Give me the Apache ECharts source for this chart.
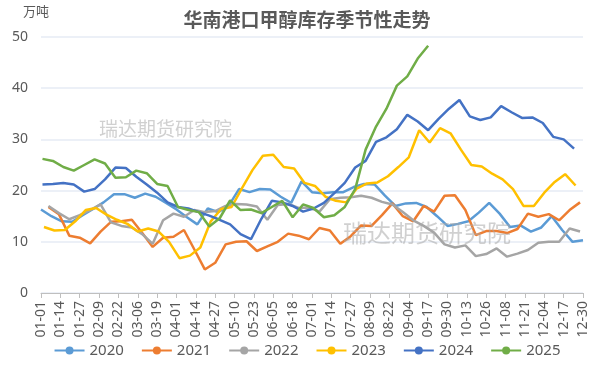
<!DOCTYPE html>
<html><head><meta charset="utf-8">
<script src="https://cdn.jsdelivr.net/npm/echarts@6/dist/echarts.min.js"></script>
<style>html,body{margin:0;padding:0;background:#fff}#c{width:614px;height:369px}</style>
</head><body><div id="c"></div>
<script>
const tickLabels = ['01-01','01-14','01-27','02-09','02-22','03-06','03-19','04-01','04-14','04-27','05-10','05-23','06-05','06-18','07-01','07-14','07-27','08-09','08-22','09-04','09-17','09-30','10-13','10-26','11-08','11-21','12-04','12-17','12-30'];
const years = ['2020','2021','2022','2023','2024','2025'];
const firstDates = ['01-01','01-06','01-06','01-03','01-02','01-02'];
const s2020 = [16.3,15,14,13.9,15.2,16.4,17.7,19.3,19.3,18.6,19.4,18.8,17.6,16.3,14.8,13.4,16.5,15.8,17,20.3,19.7,20.3,20.2,18.8,17.6,21.8,19.7,19.5,19.7,19.7,20.7,21.3,21.2,19,17,17.5,17.6,16.8,15,13.1,13.5,14,15.7,17.6,15.5,12.9,13.2,12,12.8,15,12.3,10,10.3];
const s2021 = [16.8,15.4,11.2,10.8,9.7,12,13.9,14,14.3,11.7,9,10.8,11,12.3,8.5,4.6,5.9,9.5,10,10.1,8.2,9.1,10,11.6,11.2,10.5,12.7,12.2,9.6,11.1,13.2,13.1,15.2,17.5,15,14,17,15.9,19,19.1,16.2,11.3,12.1,12.1,11.7,12.5,15.5,14.9,15.4,14.2,16.2,17.7];
const s2022 = [17,15.6,14.4,15.2,16.2,17.3,13.8,13.1,12.8,11.5,9.6,14.2,15.5,14.9,16.2,15.8,16,17,17.4,17.3,16.9,14.3,17.2,17.4,16.6,16.7,15.9,18.3,18.6,18.7,19,18.6,17.8,17.3,15.8,14.2,13.1,11.8,9.5,8.9,9.3,7.2,7.6,8.7,7.1,7.7,8.4,9.8,10,10,12.6,12];
const s2023 = [12.9,12.2,12.3,14,16.2,16.6,15.3,14.3,13.5,12,12.6,12,10,6.8,7.3,8.9,14,16.4,16.8,20.5,24,26.8,27,24.6,24.3,21.5,20.9,18.8,18,17.7,20.4,21.4,21.6,22.8,24.6,26.5,31.8,29.4,32.2,31.2,28,25,24.7,23.3,22.2,20.3,17,17,19.6,21.7,23.2,21];
const s2024 = [21.2,21.3,21.5,21.2,19.8,20.3,22.2,24.5,24.4,22.7,21.2,19.6,17.7,16.8,16.5,15.8,15.1,14.3,13.4,11.5,10.5,14.5,18,17.7,17,15.9,16.5,17.6,19.5,21.5,24.5,25.8,29.5,30.4,32,34.8,33.5,31.8,34,36,37.7,34.5,33.8,34.3,36.5,35.3,34.2,34.3,33.2,30.5,30,28.2];
const s2025 = [26.2,25.8,24.6,23.9,25,26.1,25.3,22.5,22.6,23.9,23.4,21.3,20.9,16.8,16.2,15.8,13,14.6,18.1,16.2,16.3,15.6,16.8,18,14.8,17.3,16.6,14.8,15.2,16.8,20.3,28,32.5,36,40.5,42.3,45.8,48.3];
const seriesValues = [s2020,s2021,s2022,s2023,s2024,s2025];
const colors = ['#5B9BD5','#ED7D31','#A5A5A5','#FFC000','#4472C4','#70AD47'];

function dayIndex(md){
  const [m,d] = md.split('-').map(Number);
  return Math.round((Date.UTC(2024,m-1,d) - Date.UTC(2024,0,1)) / 86400000);
}
const series = years.map((y,i)=>{
  const start = dayIndex(firstDates[i]);
  return {
    name: y, type: 'line', symbol: 'circle', symbolSize: 8, showSymbol: false,
    lineStyle: {width: 2.5, color: colors[i]}, itemStyle: {color: colors[i]},
    data: seriesValues[i].map((v,k)=>[start + 7*k, v])
  };
});
const font = 'Noto Sans, Noto Sans CJK SC, sans-serif';
const chart = echarts.init(document.getElementById('c'));
chart.setOption({
  animation: false,
  color: colors,
  title: {text: '华南港口甲醇库存季节性走势', left: 'center', top: 5,
    textStyle: {fontSize: 19, fontWeight: 'bold', color: '#595959', fontFamily: 'Noto Sans CJK SC'}},
  graphic: [
    {type: 'text', left: 23, top: 5, style: {text: '万吨', fontSize: 13, fill: '#595959', fontFamily: 'Noto Sans CJK SC'}},
    {type: 'text', z: 100, left: 99, top: 119, style: {text: '瑞达期货研究院', fontSize: 19, fill: 'rgba(170,170,170,0.55)', fontFamily: 'Noto Sans CJK SC'}},
    {type: 'text', z: 100, left: 343, top: 221, style: {text: '瑞达期货研究院', fontSize: 24, fill: 'rgba(170,170,170,0.55)', fontFamily: 'Noto Sans CJK SC'}}
  ],
  legend: {bottom: 6, left: 'center', itemWidth: 30, itemHeight: 10, itemGap: 17,
    textStyle: {fontSize: 15, color: '#595959', fontFamily: font}},
  grid: {left: 41, right: 31, top: 37, bottom: 76},
  xAxis: {type: 'value', min: 0, max: 364, interval: 13,
    axisLine: {show: true, lineStyle: {color: '#BFBFBF', width: 1}},
    axisTick: {show: true, length: 5, lineStyle: {color: '#BFBFBF'}},
    splitLine: {show: false},
    axisLabel: {rotate: 90, fontSize: 14, color: '#595959', fontFamily: font, margin: 8,
      formatter: v => tickLabels[Math.round(v/13)] || ''}},
  yAxis: {type: 'value', min: 0, max: 50, interval: 10,
    axisLine: {show: false}, axisTick: {show: false},
    splitLine: {lineStyle: {color: '#E6EBF4', width: 1.5}},
    axisLabel: {fontSize: 14, color: '#595959', fontFamily: font, margin: 13}},
  series: series
});
</script></body></html>
